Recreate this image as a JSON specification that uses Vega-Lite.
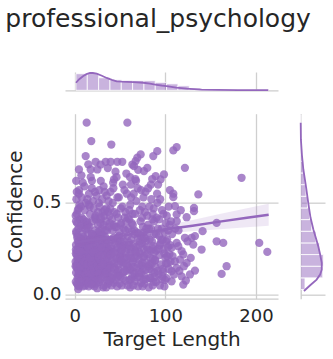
{
"$schema":"https://vega.github.io/schema/vega-lite/v6.json",
"title":{"text":"professional_psychology","fontSize":25,"fontWeight":"normal","font":"DejaVu Sans","color":"#262626","anchor":"start","frame":"bounds","offset":37},
"padding":{"left":5,"top":7,"right":5,"bottom":5},
"autosize":{"type":"pad"},
"bounds":"flush",
"spacing":22.7,
"config":{"font":"DejaVu Sans","view":{"stroke":null},
 "axis":{"gridColor":"#cfcfcf","gridWidth":1.3,"domainColor":"#cccccc","domainWidth":1.3,"labelColor":"#262626","titleColor":"#262626","labelFont":"DejaVu Sans","titleFont":"DejaVu Sans","labelFontSize":18,"titleFontSize":20,"titleFontWeight":"normal","ticks":false,"tickSize":0}},
"datasets":{
"points":[
{"len":1.5,"conf":0.12},{"len":7.3,"conf":0.21},{"len":11.6,"conf":0.05},{"len":3.4,"conf":0.29},{"len":9.8,"conf":0.15},{"len":1.0,"conf":0.18},{"len":5.6,"conf":0.41},{"len":12.9,"conf":0.10},{"len":2.6,"conf":0.24},{"len":8.4,"conf":0.33},{"len":4.7,"conf":0.14},{"len":10.9,"conf":0.26},{"len":1.9,"conf":0.52},{"len":7.9,"conf":0.17},{"len":13.2,"conf":0.095},{"len":4.1,"conf":0.36},{"len":10.2,"conf":0.22},{"len":1.2,"conf":0.07},{"len":6.4,"conf":0.13},{"len":12.1,"conf":0.30},{"len":3.0,"conf":0.19},{"len":8.9,"conf":0.61},{"len":6.0,"conf":0.25},{"len":12.5,"conf":0.16},{"len":2.2,"conf":0.44},{"len":7.0,"conf":0.11},{"len":10.5,"conf":0.38},{"len":4.4,"conf":0.20},{"len":1.4,"conf":0.27},{"len":9.3,"conf":0.135},
{"len":2.0,"conf":0.155},{"len":6.9,"conf":0.48},{"len":11.1,"conf":0.23},{"len":3.7,"conf":0.105},{"len":9.5,"conf":0.315},{"len":1.3,"conf":0.225},{"len":5.3,"conf":0.175},{"len":12.6,"conf":0.395},{"len":2.9,"conf":0.145},{"len":8.2,"conf":0.265},{"len":4.9,"conf":0.57},{"len":11.4,"conf":0.195},{"len":1.7,"conf":0.345},{"len":7.6,"conf":0.125},{"len":13.0,"conf":0.21},{"len":3.9,"conf":0.03},{"len":10.0,"conf":0.285},{"len":1.1,"conf":0.43},{"len":6.6,"conf":0.185},{"len":11.9,"conf":0.245},{"len":3.2,"conf":0.09},{"len":8.7,"conf":0.365},{"len":5.8,"conf":0.115},{"len":12.3,"conf":0.50},{"len":2.4,"conf":0.165},{"len":7.2,"conf":0.305},{"len":10.7,"conf":0.14},{"len":4.2,"conf":0.255},{"len":1.6,"conf":0.62},{"len":9.1,"conf":0.205},
{"len":1.8,"conf":0.335},{"len":6.2,"conf":0.10},{"len":11.3,"conf":0.17},{"len":3.5,"conf":0.46},{"len":9.7,"conf":0.235},{"len":1.0,"conf":0.155},{"len":5.1,"conf":0.275},{"len":12.8,"conf":0.125},{"len":2.7,"conf":0.39},{"len":8.0,"conf":0.185},{"len":4.6,"conf":0.55},{"len":10.4,"conf":0.29},{"len":2.1,"conf":0.215},{"len":7.7,"conf":0.42},{"len":13.3,"conf":0.27},{"len":4.0,"conf":0.13},{"len":10.8,"conf":0.59},{"len":1.3,"conf":0.245},{"len":6.3,"conf":0.375},{"len":12.0,"conf":0.2},{"len":3.1,"conf":0.32},{"len":9.0,"conf":0.065},{"len":5.5,"conf":0.49},{"len":12.4,"conf":0.355},{"len":2.3,"conf":0.56},{"len":7.4,"conf":0.65},
{"len":4.7,"conf":0.682},{"len":12.1,"conf":0.755},{"len":13.2,"conf":0.937},
{"len":2.5,"conf":0.06},{"len":8.5,"conf":0.085},{"len":5.0,"conf":0.045},{"len":11.8,"conf":0.11},{"len":6.8,"conf":0.155},{"len":3.3,"conf":0.205},{"len":10.3,"conf":0.18},{"len":5.9,"conf":0.235},{"len":12.2,"conf":0.28},{"len":2.8,"conf":0.31},{"len":9.6,"conf":0.41},{"len":4.5,"conf":0.47},{"len":7.8,"conf":0.53},{"len":11.0,"conf":0.46},{"len":1.5,"conf":0.40},{"len":6.5,"conf":0.30},
{"len":14.3,"conf":0.20},{"len":19.7,"conf":0.13},{"len":25.0,"conf":0.27},{"len":16.8,"conf":0.10},{"len":22.6,"conf":0.35},{"len":15.0,"conf":0.23},{"len":21.3,"conf":0.16},{"len":25.7,"conf":0.45},{"len":18.1,"conf":0.29},{"len":23.8,"conf":0.12},{"len":15.9,"conf":0.185},{"len":22.1,"conf":0.25},{"len":18.9,"conf":0.58},{"len":25.4,"conf":0.215},{"len":13.8,"conf":0.40},{"len":20.6,"conf":0.14},{"len":17.4,"conf":0.305},{"len":23.3,"conf":0.17},{"len":15.4,"conf":0.08},{"len":20.2,"conf":0.51},{"len":26.0,"conf":0.19},{"len":18.5,"conf":0.24},{"len":24.3,"conf":0.11},{"len":16.3,"conf":0.37},{"len":21.7,"conf":0.205},{"len":17.7,"conf":0.64},{"len":24.7,"conf":0.315},{"len":14.1,"conf":0.155},{"len":21.0,"conf":0.265},{"len":23.0,"conf":0.43},
{"len":14.8,"conf":0.125},{"len":19.2,"conf":0.33},{"len":24.6,"conf":0.175},{"len":16.0,"conf":0.22},{"len":22.9,"conf":0.095},{"len":15.2,"conf":0.285},{"len":20.9,"conf":0.47},{"len":25.3,"conf":0.145},{"len":17.1,"conf":0.255},{"len":23.5,"conf":0.195},{"len":14.5,"conf":0.38},{"len":21.5,"conf":0.105},{"len":19.4,"conf":0.235},{"len":24.1,"conf":0.54},{"len":13.9,"conf":0.165},{"len":20.4,"conf":0.295},{"len":17.9,"conf":0.135},{"len":22.4,"conf":0.42},{"len":16.5,"conf":0.21},{"len":20.0,"conf":0.06},{"len":25.8,"conf":0.34},{"len":18.3,"conf":0.18},{"len":23.9,"conf":0.275},{"len":15.6,"conf":0.49},{"len":22.0,"conf":0.15},{"len":17.3,"conf":0.245},{"len":24.9,"conf":0.11},{"len":14.6,"conf":0.36},{"len":21.2,"conf":0.19},{"len":19.0,"conf":0.62},
{"len":16.1,"conf":0.23},{"len":21.9,"conf":0.125},{"len":25.1,"conf":0.32},{"len":18.7,"conf":0.17},{"len":14.2,"conf":0.26},{"len":23.2,"conf":0.41},{"len":20.7,"conf":0.14},{"len":15.8,"conf":0.55},{"len":24.4,"conf":0.205},{"len":17.6,"conf":0.30},{"len":22.7,"conf":0.085},{"len":19.5,"conf":0.185},{"len":16.9,"conf":0.44},{"len":25.5,"conf":0.16},
{"len":18.3,"conf":0.837},{"len":17.6,"conf":0.682},{"len":23.1,"conf":0.724},{"len":25.0,"conf":0.682},{"len":15.0,"conf":0.71},
{"len":15.5,"conf":0.045},{"len":19.9,"conf":0.085},{"len":23.6,"conf":0.06},{"len":17.2,"conf":0.2},{"len":21.4,"conf":0.32},{"len":14.9,"conf":0.33},{"len":24.0,"conf":0.24},{"len":19.3,"conf":0.40},{"len":16.6,"conf":0.48},{"len":22.3,"conf":0.56},{"len":20.5,"conf":0.23},{"len":25.6,"conf":0.38},{"len":18.0,"conf":0.115},{"len":14.0,"conf":0.52},
{"len":26.8,"conf":0.14},{"len":32.2,"conf":0.27},{"len":37.5,"conf":0.12},{"len":29.3,"conf":0.33},{"len":35.1,"conf":0.19},{"len":27.5,"conf":0.48},{"len":33.8,"conf":0.225},{"len":38.2,"conf":0.10},{"len":30.6,"conf":0.30},{"len":36.3,"conf":0.165},{"len":28.4,"conf":0.24},{"len":34.6,"conf":0.40},{"len":31.4,"conf":0.13},{"len":37.9,"conf":0.285},{"len":26.3,"conf":0.205},{"len":33.1,"conf":0.56},{"len":29.9,"conf":0.155},{"len":35.8,"conf":0.35},{"len":27.9,"conf":0.26},{"len":32.7,"conf":0.11},{"len":38.5,"conf":0.43},{"len":31.0,"conf":0.18},{"len":36.8,"conf":0.25},{"len":28.8,"conf":0.62},{"len":34.2,"conf":0.145},{"len":30.2,"conf":0.36},{"len":37.2,"conf":0.21},{"len":26.6,"conf":0.50},{"len":33.5,"conf":0.315},{"len":35.5,"conf":0.08},
{"len":27.2,"conf":0.235},{"len":32.9,"conf":0.17},{"len":36.6,"conf":0.45},{"len":30.0,"conf":0.125},{"len":34.9,"conf":0.265},{"len":28.1,"conf":0.19},{"len":31.7,"conf":0.38},{"len":37.6,"conf":0.155},{"len":29.5,"conf":0.295},{"len":35.3,"conf":0.54},{"len":26.9,"conf":0.115},{"len":33.3,"conf":0.215},{"len":30.8,"conf":0.325},{"len":36.0,"conf":0.135},{"len":28.6,"conf":0.41},{"len":34.0,"conf":0.245},{"len":31.9,"conf":0.59},{"len":37.0,"conf":0.185},{"len":27.7,"conf":0.345},{"len":32.4,"conf":0.095},
{"len":28.6,"conf":0.709},{"len":34.2,"conf":0.724},{"len":36.5,"conf":0.69},
{"len":29.0,"conf":0.215},{"len":33.9,"conf":0.28},{"len":37.8,"conf":0.37},{"len":31.2,"conf":0.165},{"len":35.0,"conf":0.47},{"len":26.5,"conf":0.30},{"len":32.0,"conf":0.05},{"len":36.2,"conf":0.23},{"len":30.4,"conf":0.52},{"len":34.5,"conf":0.12},
{"len":27.3,"conf":0.07},{"len":31.5,"conf":0.04},{"len":36.9,"conf":0.06},{"len":29.7,"conf":0.255},{"len":33.7,"conf":0.35},{"len":38.0,"conf":0.24},{"len":28.2,"conf":0.39},{"len":35.7,"conf":0.30},{"len":30.9,"conf":0.45},{"len":37.4,"conf":0.51},{"len":32.6,"conf":0.43},{"len":27.0,"conf":0.57},
{"len":39.3,"conf":0.16},{"len":44.7,"conf":0.28},{"len":50.0,"conf":0.21},{"len":41.8,"conf":0.35},{"len":47.6,"conf":0.125},{"len":40.0,"conf":0.25},{"len":46.3,"conf":0.44},{"len":50.7,"conf":0.18},{"len":43.1,"conf":0.31},{"len":48.8,"conf":0.105},{"len":40.9,"conf":0.225},{"len":47.1,"conf":0.53},{"len":43.9,"conf":0.15},{"len":50.4,"conf":0.27},{"len":38.8,"conf":0.39},{"len":45.6,"conf":0.195},{"len":42.4,"conf":0.61},{"len":48.3,"conf":0.135},{"len":40.4,"conf":0.30},{"len":45.2,"conf":0.24},{"len":51.0,"conf":0.47},{"len":43.5,"conf":0.17},{"len":49.3,"conf":0.34},{"len":41.3,"conf":0.09},{"len":46.7,"conf":0.255},{"len":42.7,"conf":0.58},{"len":49.7,"conf":0.20},{"len":39.1,"conf":0.145},{"len":46.0,"conf":0.37},{"len":48.0,"conf":0.29},
{"len":39.8,"conf":0.215},{"len":44.2,"conf":0.14},{"len":49.0,"conf":0.32},{"len":41.6,"conf":0.185},{"len":47.9,"conf":0.42},{"len":40.2,"conf":0.265},{"len":45.9,"conf":0.115},{"len":50.2,"conf":0.235},{"len":42.0,"conf":0.50},{"len":48.5,"conf":0.165},{"len":44.4,"conf":0.30},{"len":39.5,"conf":0.56},{"len":46.5,"conf":0.20},{"len":43.0,"conf":0.065},{"len":50.6,"conf":0.38},
{"len":40.4,"conf":0.818},{"len":39.7,"conf":0.724},{"len":43.3,"conf":0.628},{"len":47.0,"conf":0.724},{"len":45.0,"conf":0.67},
{"len":40.7,"conf":0.05},{"len":45.3,"conf":0.08},{"len":49.5,"conf":0.06},{"len":42.9,"conf":0.23},{"len":47.3,"conf":0.31},{"len":41.1,"conf":0.41},{"len":50.9,"conf":0.29},{"len":44.0,"conf":0.37},{"len":48.7,"conf":0.53},{"len":46.1,"conf":0.64},{"len":39.2,"conf":0.47},{"len":43.7,"conf":0.45},
{"len":51.8,"conf":0.22},{"len":57.2,"conf":0.13},{"len":62.5,"conf":0.30},{"len":54.3,"conf":0.175},{"len":60.1,"conf":0.41},{"len":52.5,"conf":0.26},{"len":58.8,"conf":0.155},{"len":63.2,"conf":0.345},{"len":55.6,"conf":0.20},{"len":61.3,"conf":0.49},{"len":53.4,"conf":0.12},{"len":59.6,"conf":0.285},{"len":56.4,"conf":0.235},{"len":62.9,"conf":0.17},{"len":51.3,"conf":0.39},{"len":58.1,"conf":0.25},{"len":54.9,"conf":0.57},{"len":60.8,"conf":0.14},{"len":52.9,"conf":0.315},{"len":57.7,"conf":0.195},{"len":63.5,"conf":0.10},{"len":56.0,"conf":0.45},{"len":61.8,"conf":0.23},{"len":53.8,"conf":0.16},{"len":59.2,"conf":0.36},{"len":55.2,"conf":0.27},{"len":62.2,"conf":0.53},{"len":51.6,"conf":0.185},{"len":58.5,"conf":0.32},{"len":60.5,"conf":0.08},
{"len":52.2,"conf":0.245},{"len":57.0,"conf":0.40},{"len":61.6,"conf":0.135},{"len":54.6,"conf":0.29},{"len":59.9,"conf":0.21},{"len":53.1,"conf":0.60},{"len":56.8,"conf":0.165},{"len":62.7,"conf":0.25},{"len":55.9,"conf":0.35},{"len":60.3,"conf":0.46},
{"len":58.1,"conf":0.937},{"len":52.5,"conf":0.724},{"len":63.6,"conf":0.709},{"len":57.0,"conf":0.66},{"len":61.0,"conf":0.64},
{"len":52.0,"conf":0.05},{"len":56.2,"conf":0.075},{"len":61.2,"conf":0.04},{"len":55.3,"conf":0.13},{"len":58.9,"conf":0.42},{"len":63.0,"conf":0.39},{"len":54.0,"conf":0.36},{"len":57.5,"conf":0.55},{"len":60.0,"conf":0.27},{"len":52.7,"conf":0.48},{"len":62.0,"conf":0.6},
{"len":64.3,"conf":0.18},{"len":69.7,"conf":0.31},{"len":75.0,"conf":0.14},{"len":66.8,"conf":0.24},{"len":72.6,"conf":0.40},{"len":65.0,"conf":0.125},{"len":71.3,"conf":0.27},{"len":75.7,"conf":0.205},{"len":68.1,"conf":0.51},{"len":73.8,"conf":0.16},{"len":65.9,"conf":0.35},{"len":72.1,"conf":0.225},{"len":68.9,"conf":0.095},{"len":75.4,"conf":0.30},{"len":63.8,"conf":0.44},{"len":70.6,"conf":0.19},{"len":67.4,"conf":0.26},{"len":73.3,"conf":0.57},{"len":65.4,"conf":0.15},{"len":70.2,"conf":0.335},{"len":76.0,"conf":0.25},{"len":68.5,"conf":0.21},{"len":74.3,"conf":0.42},{"len":66.3,"conf":0.11},{"len":71.7,"conf":0.29},{"len":67.7,"conf":0.62},{"len":74.7,"conf":0.175},{"len":64.1,"conf":0.38},{"len":71.0,"conf":0.235},{"len":73.0,"conf":0.064},
{"len":64.8,"conf":0.275},{"len":69.2,"conf":0.145},{"len":74.6,"conf":0.48},{"len":66.0,"conf":0.20},{"len":72.9,"conf":0.32},{"len":65.2,"conf":0.55},{"len":70.9,"conf":0.165},{"len":75.3,"conf":0.37},{"len":67.1,"conf":0.23},{"len":73.5,"conf":0.12},
{"len":72.8,"conf":0.764},{"len":69.1,"conf":0.746},{"len":67.2,"conf":0.728},{"len":65.4,"conf":0.70},{"len":70.0,"conf":0.68},
{"len":64.6,"conf":0.05},{"len":69.9,"conf":0.045},{"len":75.8,"conf":0.08},{"len":68.2,"conf":0.34},{"len":71.9,"conf":0.46},{"len":66.6,"conf":0.44},{"len":74.0,"conf":0.28},{"len":69.5,"conf":0.58},{"len":75.9,"conf":0.53},{"len":66.9,"conf":0.63},
{"len":76.8,"conf":0.21},{"len":82.2,"conf":0.14},{"len":87.5,"conf":0.33},{"len":79.3,"conf":0.26},{"len":85.1,"conf":0.17},{"len":77.5,"conf":0.45},{"len":83.8,"conf":0.24},{"len":88.2,"conf":0.12},{"len":80.6,"conf":0.38},{"len":86.3,"conf":0.195},{"len":78.4,"conf":0.29},{"len":84.6,"conf":0.52},{"len":81.4,"conf":0.155},{"len":87.9,"conf":0.23},{"len":76.3,"conf":0.34},{"len":83.1,"conf":0.09},{"len":79.9,"conf":0.22},{"len":85.8,"conf":0.41},{"len":77.9,"conf":0.135},{"len":82.7,"conf":0.30},{"len":88.5,"conf":0.185},{"len":81.0,"conf":0.58},{"len":86.8,"conf":0.265},{"len":78.8,"conf":0.175},{"len":84.2,"conf":0.36},{"len":80.2,"conf":0.245},{"len":87.2,"conf":0.47},{"len":76.6,"conf":0.105},{"len":83.5,"conf":0.20},{"len":85.5,"conf":0.63},
{"len":77.2,"conf":0.31},{"len":82.9,"conf":0.165},{"len":86.6,"conf":0.25},{"len":80.0,"conf":0.43},{"len":84.9,"conf":0.13},
{"len":76.4,"conf":0.673},{"len":80.1,"conf":0.691},{"len":86.7,"conf":0.755},{"len":83.8,"conf":0.091},
{"len":77.0,"conf":0.06},{"len":81.7,"conf":0.04},{"len":87.0,"conf":0.07},{"len":79.5,"conf":0.32},{"len":85.3,"conf":0.29},{"len":82.4,"conf":0.48},{"len":78.1,"conf":0.56},{"len":87.7,"conf":0.40},{"len":81.9,"conf":0.36},{"len":84.0,"conf":0.6},
{"len":89.3,"conf":0.15},{"len":94.7,"conf":0.28},{"len":100.0,"conf":0.20},{"len":91.8,"conf":0.36},{"len":97.6,"conf":0.125},{"len":90.0,"conf":0.24},{"len":96.3,"conf":0.46},{"len":100.7,"conf":0.17},{"len":93.1,"conf":0.32},{"len":98.8,"conf":0.225},{"len":90.9,"conf":0.55},{"len":97.1,"conf":0.14},{"len":93.9,"conf":0.27},{"len":100.4,"conf":0.39},{"len":88.8,"conf":0.19},{"len":95.6,"conf":0.30},{"len":92.4,"conf":0.11},{"len":98.3,"conf":0.25},{"len":90.4,"conf":0.42},{"len":95.2,"conf":0.165},{"len":99.3,"conf":0.34},{"len":93.5,"conf":0.215},{"len":91.3,"conf":0.50},{"len":96.7,"conf":0.10},
{"len":91.1,"conf":0.782},{"len":98.5,"conf":0.655},{"len":94.8,"conf":0.628},{"len":89.3,"conf":0.646},{"len":92.0,"conf":0.60},
{"len":89.8,"conf":0.07},{"len":94.0,"conf":0.05},{"len":99.6,"conf":0.08},{"len":92.7,"conf":0.25},{"len":96.0,"conf":0.36},{"len":89.6,"conf":0.33},{"len":97.9,"conf":0.44},{"len":94.3,"conf":0.52},{"len":100.9,"conf":0.29},{"len":93.0,"conf":0.41},
{"len":108.8,"conf":0.786},{"len":112.5,"conf":0.804},{"len":108.8,"conf":0.55},{"len":108.8,"conf":0.531},{"len":110.6,"conf":0.482},{"len":112.5,"conf":0.437},{"len":112.5,"conf":0.40},{"len":112.5,"conf":0.282},{"len":106.9,"conf":0.255},{"len":110.6,"conf":0.182},{"len":112.5,"conf":0.146},{"len":106.9,"conf":0.128},{"len":106.9,"conf":0.073},
{"len":102.0,"conf":0.30},{"len":104.5,"conf":0.22},{"len":103.2,"conf":0.35},{"len":105.8,"conf":0.18},{"len":101.6,"conf":0.43},{"len":107.5,"conf":0.33},{"len":104.0,"conf":0.14},{"len":102.8,"conf":0.26},{"len":106.2,"conf":0.40},{"len":101.3,"conf":0.09},{"len":105.0,"conf":0.57},{"len":103.7,"conf":0.48},{"len":108.0,"conf":0.21},{"len":111.0,"conf":0.36},{"len":109.5,"conf":0.11},
{"len":102.5,"conf":0.17},{"len":105.4,"conf":0.27},{"len":101.9,"conf":0.21},{"len":104.8,"conf":0.38},
{"len":121.6,"conf":0.691},{"len":123.5,"conf":0.422},{"len":121.6,"conf":0.31},{"len":114.3,"conf":0.264},{"len":118.0,"conf":0.237},{"len":119.8,"conf":0.219},{"len":116.1,"conf":0.191},{"len":123.5,"conf":0.173},{"len":118.0,"conf":0.10},{"len":119.8,"conf":0.055},{"len":122.7,"conf":0.077},{"len":114.5,"conf":0.35},{"len":117.0,"conf":0.46},{"len":124.5,"conf":0.29},{"len":115.5,"conf":0.13},{"len":120.5,"conf":0.155},
{"len":136.4,"conf":0.546},{"len":131.6,"conf":0.473},{"len":131.6,"conf":0.455},{"len":129.0,"conf":0.31},{"len":132.7,"conf":0.319},{"len":130.8,"conf":0.273},{"len":132.7,"conf":0.131},{"len":127.2,"conf":0.11},{"len":128.0,"conf":0.20},
{"len":141.1,"conf":0.346},{"len":156.6,"conf":0.391},{"len":156.6,"conf":0.291},{"len":163.9,"conf":0.282},{"len":140.0,"conf":0.246},{"len":167.6,"conf":0.155},{"len":162.1,"conf":0.113},{"len":184.1,"conf":0.637},{"len":203.6,"conf":0.282},{"len":212.5,"conf":0.233},
{"len":3.6,"conf":0.05},{"len":9.2,"conf":0.045},{"len":6.7,"conf":0.07},{"len":12.7,"conf":0.075},{"len":15.1,"conf":0.065},{"len":21.8,"conf":0.045},{"len":26.2,"conf":0.08},{"len":18.6,"conf":0.055},{"len":24.8,"conf":0.035},{"len":29.2,"conf":0.085},{"len":34.8,"conf":0.04},{"len":38.3,"conf":0.075},{"len":41.9,"conf":0.11},{"len":46.8,"conf":0.045},{"len":50.3,"conf":0.1},{"len":53.6,"conf":0.09},{"len":58.3,"conf":0.05},{"len":62.3,"conf":0.085},{"len":66.1,"conf":0.075},{"len":71.5,"conf":0.1},{"len":74.9,"conf":0.045},{"len":78.6,"conf":0.085},{"len":85.9,"conf":0.05},{"len":88.0,"conf":0.095},{"len":91.6,"conf":0.13},{"len":95.8,"conf":0.085},{"len":99.0,"conf":0.045},{"len":8.1,"conf":0.28},{"len":19.0,"conf":0.33},{"len":29.0,"conf":0.42},{"len":43.0,"conf":0.38},{"len":55.0,"conf":0.42},{"len":66.0,"conf":0.33},{"len":79.0,"conf":0.36},{"len":97.0,"conf":0.30},{"len":86.0,"conf":0.44},{"len":33.0,"conf":0.46},{"len":62.0,"conf":0.2},{"len":47.0,"conf":0.1},{"len":71.0,"conf":0.12}
],
"fit":[
{"len":1,"lo":0.261,"mid":0.285,"hi":0.309},{"len":25,"lo":0.284,"mid":0.302,"hi":0.320},{"len":55,"lo":0.309,"mid":0.323,"hi":0.337},{"len":80,"lo":0.324,"mid":0.341,"hi":0.358},{"len":105,"lo":0.336,"mid":0.359,"hi":0.382},{"len":130,"lo":0.345,"mid":0.376,"hi":0.407},{"len":160,"lo":0.357,"mid":0.398,"hi":0.439},{"len":190,"lo":0.3675,"mid":0.419,"hi":0.4705},{"len":214,"lo":0.376,"mid":0.436,"hi":0.496}
],
"hx":[
{"start":1.4,"end":13.9,"count":90},{"start":13.9,"end":26.4,"count":91},{"start":26.4,"end":38.9,"count":68},{"start":38.9,"end":51.4,"count":57},{"start":51.4,"end":63.9,"count":54},{"start":63.9,"end":76.4,"count":53},{"start":76.4,"end":88.9,"count":52},{"start":88.9,"end":101.4,"count":43},{"start":101.4,"end":113.9,"count":35},{"start":113.9,"end":126.4,"count":24},{"start":126.4,"end":138.9,"count":12},{"start":138.9,"end":151.4,"count":5},{"start":151.4,"end":163.9,"count":3},{"start":163.9,"end":176.4,"count":2},{"start":176.4,"end":188.9,"count":1},{"start":188.9,"end":201.4,"count":1},{"start":201.4,"end":213.9,"count":2}
],
"kx":[
{"len":1.4,"dens":41},{"len":5,"dens":60},{"len":9.5,"dens":78},{"len":13,"dens":88},{"len":16.9,"dens":94},{"len":20,"dens":94},{"len":24.2,"dens":90},{"len":30,"dens":79},{"len":35.3,"dens":67},{"len":41,"dens":57},{"len":46.3,"dens":49},{"len":52,"dens":47},{"len":57.3,"dens":46},{"len":65,"dens":44},{"len":75.7,"dens":41},{"len":83,"dens":36},{"len":90.4,"dens":30},{"len":96,"dens":26},{"len":101.4,"dens":23},{"len":112,"dens":15},{"len":123.5,"dens":9},{"len":140,"dens":4},{"len":156.5,"dens":2},{"len":180,"dens":1},{"len":200,"dens":0.8},{"len":213.6,"dens":0.5}
],
"hy":[
{"start":0.028,"end":0.0915,"count":21},{"start":0.0915,"end":0.155,"count":108},{"start":0.155,"end":0.2185,"count":111},{"start":0.2185,"end":0.282,"count":92},{"start":0.282,"end":0.3455,"count":75},{"start":0.3455,"end":0.409,"count":54},{"start":0.409,"end":0.4725,"count":43},{"start":0.4725,"end":0.536,"count":33},{"start":0.536,"end":0.5995,"count":26},{"start":0.5995,"end":0.663,"count":21},{"start":0.663,"end":0.7265,"count":13},{"start":0.7265,"end":0.79,"count":7},{"start":0.79,"end":0.8535,"count":3},{"start":0.8535,"end":0.917,"count":2},{"start":0.917,"end":0.9805,"count":2}
],
"ky":[
{"conf":0.02,"dens":16},{"conf":0.05,"dens":45},{"conf":0.082,"dens":78},{"conf":0.11,"dens":95},{"conf":0.136,"dens":103},{"conf":0.173,"dens":103},{"conf":0.22,"dens":95},{"conf":0.264,"dens":86},{"conf":0.31,"dens":74},{"conf":0.355,"dens":62},{"conf":0.42,"dens":48},{"conf":0.5,"dens":37},{"conf":0.58,"dens":27},{"conf":0.682,"dens":13},{"conf":0.76,"dens":6},{"conf":0.846,"dens":1},{"conf":0.937,"dens":0}
]
},
"vconcat":[
{
 "width":213,"height":18.3,
 "layer":[
  {"data":{"name":"hx"},"mark":{"type":"rect","fill":"#9467bd","fillOpacity":0.5,"stroke":"white","strokeWidth":0.8},
   "encoding":{"x":{"field":"start","type":"quantitative","scale":{"domain":[-10.7,224.3],"nice":false,"zero":false},"axis":{"values":[0,100,200],"labels":false,"title":null,"domain":true}},
    "x2":{"field":"end"},
    "y":{"field":"count","type":"quantitative","scale":{"domain":[0,99.4],"nice":false},"axis":null},
    "y2":{"datum":0}}},
  {"data":{"name":"kx"},"mark":{"type":"line","color":"#9467bd","strokeWidth":1.8},
   "encoding":{"x":{"field":"len","type":"quantitative"},"y":{"field":"dens","type":"quantitative"}}}
 ]
},
{
 "bounds":"flush",
 "spacing":22.7,
 "hconcat":[
 {
  "width":213,"height":185,
  "layer":[
   {"data":{"name":"points"},"mark":{"type":"circle","size":68,"opacity":0.8,"color":"#9467bd"},
    "encoding":{"x":{"field":"len","type":"quantitative","scale":{"domain":[-10.7,224.3],"nice":false,"zero":false},"axis":{"values":[0,100,200],"title":"Target Length","labelPadding":9,"titlePadding":4,"domain":true}},
     "y":{"field":"conf","type":"quantitative","scale":{"domain":[-0.022,0.986],"nice":false,"zero":false},"axis":{"values":[0,0.5],"format":".1f","title":"Confidence","domain":false,"labelPadding":4,"titlePadding":7}}}},
   {"data":{"name":"fit"},"mark":{"type":"area","color":"#9467bd","opacity":0.15},
    "encoding":{"x":{"field":"len","type":"quantitative"},"y":{"field":"lo","type":"quantitative"},"y2":{"field":"hi"}}},
   {"data":{"name":"fit"},"mark":{"type":"line","color":"#9467bd","strokeWidth":2.5},
    "encoding":{"x":{"field":"len","type":"quantitative"},"y":{"field":"mid","type":"quantitative"}}}
  ]
 },
 {
  "width":24.3,"height":185,
  "layer":[
   {"data":{"name":"hy"},"mark":{"type":"rect","fill":"#9467bd","fillOpacity":0.5,"stroke":"white","strokeWidth":0.8},
    "encoding":{"y":{"field":"start","type":"quantitative","scale":{"domain":[-0.022,0.986],"nice":false,"zero":false},"axis":{"values":[0,0.5],"labels":false,"title":null,"domain":true}},
     "y2":{"field":"end"},
     "x":{"field":"count","type":"quantitative","scale":{"domain":[0,119],"nice":false},"axis":null},
     "x2":{"datum":0}}},
   {"data":{"name":"ky"},"mark":{"type":"line","color":"#9467bd","strokeWidth":1.8},
    "encoding":{"y":{"field":"conf","type":"quantitative"},"x":{"field":"dens","type":"quantitative"},"order":{"field":"conf","type":"quantitative"}}}
  ]
 }
 ]
}
]
}
